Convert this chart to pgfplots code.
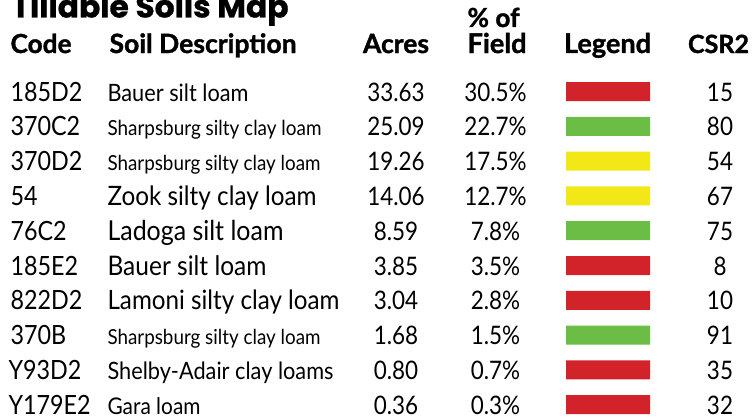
\documentclass[border=0pt]{standalone}
\usepackage{pgfplots}
\pgfplotsset{compat=1.18}
\usepackage{pgfplotstable}
\usepackage{graphicx}
\usepackage{fontspec}
\setmainfont{Lato}
\newfontfamily\hdr{Lato}[UprightFont=*-Bold, FakeBold=1.3]
\newfontfamily\ttl{Poppins}[UprightFont=*-Bold, FakeBold=0.8]
\definecolor{txt}{HTML}{262626}
\definecolor{cred}{HTML}{D2232A}
\definecolor{cgreen}{HTML}{6BBD45}
\definecolor{cyellow}{HTML}{F2E817}
\newcommand\num[1]{\scalebox{0.88}[1]{\fontsize{25.5}{25.5}\selectfont #1}}
\newcommand\code[1]{\scalebox{0.88}[1]{\fontsize{26.5}{26.5}\selectfont #1}}
\newcommand\desc[2]{\scalebox{1}[1.1]{\resizebox{#1pt}{!}{\fontsize{20}{20}\selectfont #2}}}
\newcommand\hd[2]{\resizebox{#1pt}{!}{\hdr\fontsize{20}{20}\selectfont #2}}
\pgfplotstableread{
y off red green yellow
91.5  566 84 0 0
126.3 566 0 84 0
161.1 566 0 0 84
195.9 566 0 0 84
230.7 566 0 84 0
265.5 566 84 0 0
300.3 566 84 0 0
335.1 566 0 84 0
369.9 566 84 0 0
404.7 566 84 0 0
}\bars
\begin{document}
\begin{tikzpicture}
\useasboundingbox (0,0) rectangle (752pt,420pt);
\clip (0,0) rectangle (752pt,420pt);
\begin{axis}[at={(0,0)}, anchor=south west, scale only axis, width=752pt, height=420pt,
  xmin=0, xmax=752, ymin=0, ymax=420, y dir=reverse, axis lines=none, ticks=none,
  clip=false, xbar stacked, bar width=19pt,
  every node/.style={text=txt, inner sep=0pt, outer sep=0pt}]
\addplot[draw=none, fill=none] table[x=off, y=y] {\bars};
\addplot[draw=none, fill=cred] table[x=red, y=y] {\bars};
\addplot[draw=none, fill=cgreen] table[x=green, y=y] {\bars};
\addplot[draw=none, fill=cyellow] table[x=yellow, y=y] {\bars};
% title
\node[anchor=base west] at (axis cs:8,17.5) {\resizebox{277pt}{25pt}{\ttl Tillable Soils Map}};
% headers
\node[anchor=base west] at (axis cs:7,53) {\hd{61}{Code}};
\node[anchor=base west] at (axis cs:106,53) {\hd{187}{Soil Description}};
\node[anchor=base] at (axis cs:396,53) {\hd{66}{Acres}};
\node[anchor=base west] at (axis cs:464,27) {\hd{52}{\% of}};
\node[anchor=base west] at (axis cs:464,53) {\hd{59}{Field}};
\node[anchor=base] at (axis cs:607.5,53) {\hd{87}{Legend}};
\node[anchor=base] at (axis cs:718.5,53) {\hd{61}{CSR2}};
% codes
\node[anchor=base west] at (axis cs:7,101) {\code{185D2}};
\node[anchor=base west] at (axis cs:7,135.8) {\code{370C2}};
\node[anchor=base west] at (axis cs:7,170.6) {\code{370D2}};
\node[anchor=base west] at (axis cs:7,205.4) {\code{54}};
\node[anchor=base west] at (axis cs:7,240.2) {\code{76C2}};
\node[anchor=base west] at (axis cs:7,275) {\code{185E2}};
\node[anchor=base west] at (axis cs:7,309.8) {\code{822D2}};
\node[anchor=base west] at (axis cs:7,344.6) {\code{370B}};
\node[anchor=base west] at (axis cs:5,379.4) {\code{Y93D2}};
\node[anchor=base west] at (axis cs:5,414.2) {\code{Y179E2}};
% descriptions
\node[anchor=base west] at (axis cs:104,101) {\desc{141}{Bauer silt loam}};
\node[anchor=base west] at (axis cs:104,135.8) {\desc{214}{Sharpsburg silty clay loam}};
\node[anchor=base west] at (axis cs:104,170.6) {\desc{213}{Sharpsburg silty clay loam}};
\node[anchor=base west] at (axis cs:104,205.4) {\desc{209}{Zook silty clay loam}};
\node[anchor=base west] at (axis cs:104,240.2) {\desc{176}{Ladoga silt loam}};
\node[anchor=base west] at (axis cs:104,275) {\desc{159}{Bauer silt loam}};
\node[anchor=base west] at (axis cs:104,309.8) {\desc{232}{Lamoni silty clay loam}};
\node[anchor=base west] at (axis cs:104,344.6) {\desc{213}{Sharpsburg silty clay loam}};
\node[anchor=base west] at (axis cs:104,379.4) {\desc{226}{Shelby-Adair clay loams}};
\node[anchor=base west] at (axis cs:104,414.2) {\desc{93}{Gara loam}};
% acres
\node[anchor=base] at (axis cs:396,101) {\num{33.63}};
\node[anchor=base] at (axis cs:396,135.8) {\num{25.09}};
\node[anchor=base] at (axis cs:396,170.6) {\num{19.26}};
\node[anchor=base] at (axis cs:396,205.4) {\num{14.06}};
\node[anchor=base] at (axis cs:396,240.2) {\num{8.59}};
\node[anchor=base] at (axis cs:396,275) {\num{3.85}};
\node[anchor=base] at (axis cs:396,309.8) {\num{3.04}};
\node[anchor=base] at (axis cs:396,344.6) {\num{1.68}};
\node[anchor=base] at (axis cs:396,379.4) {\num{0.80}};
\node[anchor=base] at (axis cs:396,414.2) {\num{0.36}};
% percent
\node[anchor=base] at (axis cs:495.5,101) {\num{30.5\%}};
\node[anchor=base] at (axis cs:495.5,135.8) {\num{22.7\%}};
\node[anchor=base] at (axis cs:495.5,170.6) {\num{17.5\%}};
\node[anchor=base] at (axis cs:495.5,205.4) {\num{12.7\%}};
\node[anchor=base] at (axis cs:495.5,240.2) {\num{7.8\%}};
\node[anchor=base] at (axis cs:495.5,275) {\num{3.5\%}};
\node[anchor=base] at (axis cs:495.5,309.8) {\num{2.8\%}};
\node[anchor=base] at (axis cs:495.5,344.6) {\num{1.5\%}};
\node[anchor=base] at (axis cs:495.5,379.4) {\num{0.7\%}};
\node[anchor=base] at (axis cs:495.5,414.2) {\num{0.3\%}};
% CSR2
\node[anchor=base] at (axis cs:720,101) {\num{15}};
\node[anchor=base] at (axis cs:720,135.8) {\num{80}};
\node[anchor=base] at (axis cs:720,170.6) {\num{54}};
\node[anchor=base] at (axis cs:720,205.4) {\num{67}};
\node[anchor=base] at (axis cs:720,240.2) {\num{75}};
\node[anchor=base] at (axis cs:720,275) {\num{8}};
\node[anchor=base] at (axis cs:720,309.8) {\num{10}};
\node[anchor=base] at (axis cs:720,344.6) {\num{91}};
\node[anchor=base] at (axis cs:720,379.4) {\num{35}};
\node[anchor=base] at (axis cs:720,414.2) {\num{32}};
\end{axis}
\end{tikzpicture}
\end{document}
